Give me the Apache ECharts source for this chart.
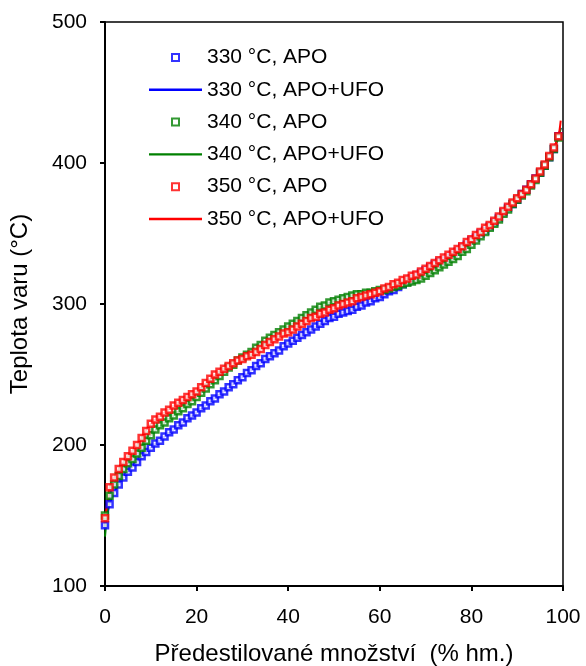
<html>
<head>
<meta charset="utf-8" />
<script type="text/javascript" src="https://cdn.jsdelivr.net/npm/echarts@6/dist/echarts.min.js"></script>
</head>
<body style="margin:0;background:#fff;">
<div id="main" style="width:586px;height:666px;"></div>
<script>
// podíl předestilovaného množství (% hm.) pro body APO
var pct = [0,1,2,3,4,5,6,7,8,9,10,11,12,13,14,15,16,17,18,19,20,21,22,23,24,25,26,27,28,29,
  30,31,32,33,34,35,36,37,38,39,40,41,42,43,44,45,46,47,48,49,50,51,52,53,54,55,56,57,58,59,
  60,61,62,63,64,65,66,67,68,69,70,71,72,73,74,75,76,77,78,79,80,81,82,83,84,85,86,87,88,89,
  90,91,92,93,94,95,96,97,98,99];

var apo330 = [143,158,166,172,177,181,184,188,192,195,198,201,203,206,209,211,214,216,219,221,
  223,226,228,231,233,236,238,241,243,246,248,251,253,256,258,261,263,265,267,270,
  272,274,276,278,280,282,284,286,288,290,291,293,294,295,296,298,299,301,302,304,
  305,307,309,310,312,314,316,318,320,322,324,326,328,330,331,333,335,337,340,342,
  345,347,350,352,355,358,361,365,368,371,374,378,381,385,389,393,398,404,410,419];

var apo340 = [150,164,172,178,183,187,190,194,198,203,207,211,214,216,219,221,224,226,229,231,
  234,237,240,243,246,249,252,255,257,260,262,264,266,269,271,274,276,278,280,282,
  284,286,288,290,292,294,296,298,299,301,302,303,304,305,306,307,307,308,308,309,
  310,310,311,312,313,314,315,316,317,318,320,322,324,326,328,330,332,334,337,339,
  342,345,348,351,354,357,360,364,367,371,374,377,380,384,388,393,398,404,410,418];

var apo350 = [148,170,177,183,188,192,196,200,205,210,215,218,220,223,225,228,230,232,234,236,
  238,241,244,247,250,252,254,256,258,260,261,263,264,266,268,271,273,275,277,279,
  280,282,284,286,288,290,291,293,294,296,297,299,300,301,302,304,305,306,307,308,
  309,311,312,314,315,317,318,320,321,323,325,327,329,331,333,335,337,339,341,344,
  346,349,351,354,356,359,362,366,369,372,375,378,381,385,389,394,399,405,411,419];

// model APO+UFO
var pctFit = [0,1,2,3,5,7,10,15,20,25,30,35,40,45,50,55,60,65,70,75,80,85,90,93,95,97,98,99,99.5];
var ufo330 = [140,158,166,172,181,188,198,211,223,236,248,261,272,282,291,298,305,314,324,333,345,358,374,385,393,404,410,419,425];
var ufo340 = [135,164,172,178,187,194,207,221,234,249,262,274,284,294,302,307,310,314,320,330,342,357,374,384,393,404,410,418,425];
var ufo350 = [145,170,177,183,192,200,215,228,238,252,261,271,280,290,297,304,309,317,325,335,346,359,375,385,394,405,411,419,430];

var names = ['330 °C, APO', '330 °C, APO+UFO', '340 °C, APO', '340 °C, APO+UFO', '350 °C, APO', '350 °C, APO+UFO'];
var colors = ['#0000ff', '#008000', '#ff0000'];

// ikony legendy: malý čtverec uprostřed / tenká čára přes celou šířku
var iconBox = 'path://M0,0 M53,7 M23,0 h7 v7 h-7 z';
var iconLine = 'path://M0,0 M53,7 M0,2.3 h53 v2.4 h-53 z';

function pairs(xs, ys) {
  return xs.map(function (x, i) { return [x, ys[i]]; });
}

function bodySeries(name, ys, color) {
  return {
    name: name,
    type: 'scatter',
    data: pairs(pct, ys),
    symbol: 'rect',
    symbolSize: 6,
    itemStyle: { color: '#fff', borderColor: color, borderWidth: 2.5 },
    z: 3
  };
}

function fitSeries(name, ys, color) {
  return {
    name: name,
    type: 'line',
    data: pairs(pctFit, ys),
    symbol: 'none',
    smooth: 0.3,
    lineStyle: { color: color, width: 2 },
    itemStyle: { color: color },
    z: 2
  };
}

var chart = echarts.init(document.getElementById('main'));
chart.setOption({
  animation: false,
  textStyle: { fontFamily: 'Liberation Sans, Arial, sans-serif' },
  grid: {
    left: 105, right: 23, top: 22, bottom: 80,
    outerBoundsMode: 'none',
    show: true, borderColor: '#000', borderWidth: 1.5
  },
  legend: {
    orient: 'vertical',
    left: 143,
    top: 42,
    itemWidth: 53,
    itemHeight: 7,
    itemGap: 11.3,
    data: names.map(function (n, i) {
      return { name: n, icon: i % 2 === 0 ? iconBox : iconLine };
    }),
    textStyle: { fontSize: 21, color: '#000', lineHeight: 21 }
  },
  xAxis: {
    type: 'value',
    min: 0, max: 100, interval: 20,
    name: 'Předestilované množství  (% hm.)',
    nameLocation: 'middle',
    nameGap: 56,
    nameTextStyle: { fontSize: 24, color: '#000' },
    axisLine: { lineStyle: { color: '#000', width: 2 } },
    axisTick: { show: true, length: 5, lineStyle: { color: '#000', width: 2 } },
    axisLabel: { fontSize: 21, color: '#000', margin: 21 },
    splitLine: { show: false }
  },
  yAxis: {
    type: 'value',
    min: 100, max: 500, interval: 100,
    name: 'Teplota varu (°C)',
    nameLocation: 'middle',
    nameGap: 73,
    nameRotate: 90,
    nameTextStyle: { fontSize: 24, color: '#000' },
    axisLine: { show: true, lineStyle: { color: '#000', width: 2 } },
    axisTick: { show: true, length: 5, lineStyle: { color: '#000', width: 2 } },
    axisLabel: { fontSize: 21, color: '#000', margin: 18 },
    splitLine: { show: false }
  },
  series: [
    bodySeries(names[0], apo330, colors[0]),
    fitSeries(names[1], ufo330, colors[0]),
    bodySeries(names[2], apo340, colors[1]),
    fitSeries(names[3], ufo340, colors[1]),
    bodySeries(names[4], apo350, colors[2]),
    fitSeries(names[5], ufo350, colors[2])
  ]
});
</script>
</body>
</html>
